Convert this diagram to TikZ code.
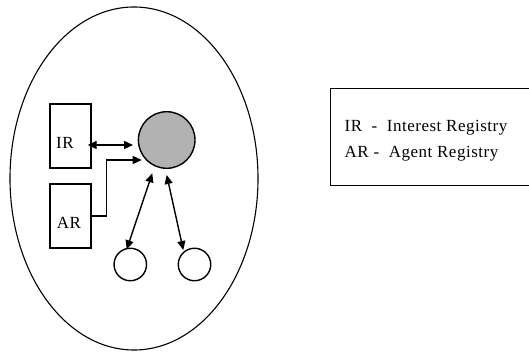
\documentclass[tikz,border=0pt]{standalone}
\usepackage{fontspec}
\setmainfont{Liberation Serif}[LetterSpace=3]
\usetikzlibrary{arrows.meta,shapes.geometric}
\begin{document}
\begin{tikzpicture}[x=1pt,y=-1pt,
  line width=1.4pt,
  tip/.style={-{Triangle[length=9pt,width=8pt]}},
  dtip/.style={{Triangle[length=9pt,width=8pt]}-{Triangle[length=9pt,width=8pt]}},
  regbox/.style={draw,minimum width=41pt,minimum height=64pt,inner sep=0pt,font=\fontsize{17}{19}\selectfont},
  agent/.style={draw,circle,inner sep=0pt,minimum size=32.5pt},
  legendline/.style={anchor=base west,inner sep=0pt,font=\fontsize{17}{19}\selectfont}]
\useasboundingbox (0,0) rectangle (529,352);
% platform boundary
\node[draw,ellipse,minimum width=248pt,minimum height=343pt,inner sep=0pt,line width=1.1pt] (platform) at (134,178.5) {};
% registries (labels sit low and to the left inside the boxes)
\node[regbox] (ir) at (70.5,136) {\hspace*{-11pt}\raisebox{-13pt}[0pt][0pt]{IR}};
\node[regbox] (ar) at (70.5,216) {\hspace*{-3pt}\raisebox{-13pt}[0pt][0pt]{AR}};
% central agent and two mobile agents
\node[draw,circle,fill=black!30,inner sep=0pt,minimum size=56.6pt] (hub) at (166.7,140) {};
\node[agent] (a1) at (130.3,264.5) {};
\node[agent] (a2) at (194.5,264.5) {};
% arrow end points
\coordinate (irL) at (87.7,145);
\coordinate (irR) at (133,145);
\coordinate (arK) at (106.7,216);
\coordinate (arT) at (141.7,160);
\coordinate (h1) at (152.3,173.3);
\coordinate (b1) at (126.7,249.3);
\coordinate (h2) at (166.7,175);
\coordinate (b2) at (183.3,250);
% connectors
\draw[dtip] (irL) -- (irR);
\draw[tip] (ar.east |- arK) -- (arK) |- (arT);
\draw[dtip] (h1) -- (b1);
\draw[dtip] (h2) -- (b2);
% legend
\node[draw,minimum width=215pt,minimum height=97pt,anchor=north west,inner sep=0pt] (legend) at (330,88) {};
\node[legendline] (lir) at (344,132) {IR\ \ -\ \ Interest Registry};
\node[legendline] (lar) at (344,158) {AR -\ \ Agent Registry};
\end{tikzpicture}
\end{document}
